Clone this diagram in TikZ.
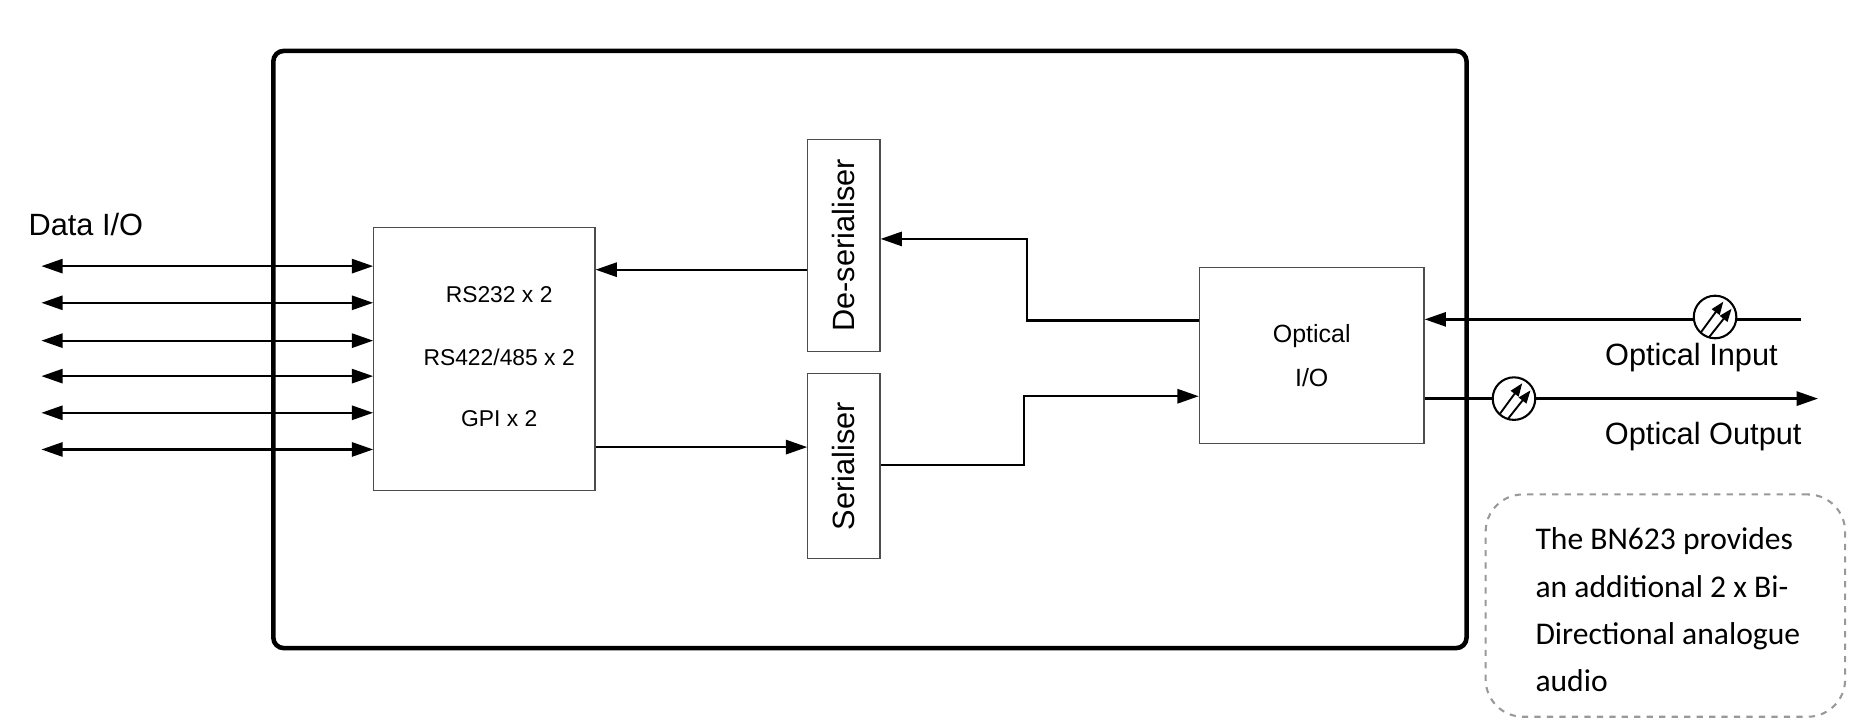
\documentclass[tikz,border=0pt]{standalone}
\usepackage{fontspec}
\setmainfont{Liberation Sans}
\newfontfamily\notefont{Carlito}
\usetikzlibrary{arrows.meta,calc}

\begin{document}
\begin{tikzpicture}[x=0.02cm, y=-0.02cm,
  every node/.style={font=\fontsize{14.8}{18}\selectfont},
  inner/.style={font=\fontsize{11}{14}\selectfont},
  blk/.style={draw=black!70, line width=0.6pt, inner sep=0pt},
  sig/.style={line width=1.1pt, -{Triangle[length=3.6mm,width=2.4mm]}},
  bidir/.style={line width=1.1pt, {Triangle[length=3.6mm,width=2.4mm]}-{Triangle[length=3.6mm,width=2.4mm]}},
  optsym/.style={draw, line width=1pt, circle, minimum size=0.72cm, inner sep=0pt, fill=white}
]
\useasboundingbox (0,0) rectangle (1570,615);
% frame
\node[draw, line width=2.2pt, rounded corners=5pt, minimum width=20.18cm, minimum height=10.1cm] (unit) at (735.5,295.5) {};
% blocks
\node[blk, minimum width=3.74cm, minimum height=4.46cm] (rs) at (409.5,303.5) {};
\node[inner] at (422,249) {RS232 x 2};
\node[inner] at (422,302) {RS422/485 x 2};
\node[inner] at (422,354) {GPI x 2};
\node[blk, minimum width=1.22cm, minimum height=3.58cm] (deser) at (713.5,207.5) {};
\node[rotate=90] at (deser.center) {De-serialiser};
\node[blk, minimum width=1.22cm, minimum height=3.12cm] (ser) at (713.5,394) {};
\node[rotate=90] at (ser.center) {Serialiser};
\node[blk, minimum width=3.8cm, minimum height=2.98cm, align=center, font=\fontsize{12}{15}\selectfont] (opt) at (1109,300.5) {Optical\\[6pt]I/O};
% data lines
\node[anchor=west] (dlabel) at (18,190) {Data I/O};
\foreach \y [count=\i] in {225,256,288,318,349,380} {
  \coordinate (d\i) at (35,\y);
  \draw[bidir] (d\i) -- (d\i -| rs.west);
}
% internal paths
\draw[sig] (deser.west |- 0,228) -- (rs.east |- 0,228);
\draw[sig] (rs.east |- 0,378) -- (ser.west |- 0,378);
\draw[sig] (opt.west |- 0,271) -- (868,271) -- (868,202) -- (deser.east |- 0,202);
\draw[sig] (ser.east |- 0,393) -- (866,393) -- (866,335) -- (opt.west |- 0,335);
% optical ports
\coordinate (inend) at (1523,270);
\coordinate (outend) at (1537,337);
\draw[sig] (inend) -- (opt.east |- inend);
\draw[sig] (opt.east |- outend) -- (outend);
\foreach \n/\x/\y in {symin/1450/268, symout/1280/337} {
  \node[optsym] (\n) at (\x,\y) {};
  \draw[line width=0.9pt, -{Triangle[length=2.2mm,width=1.6mm]}] ($(\n)+(-12,13)$) -- ($(\n)+(7,-13)$);
  \draw[line width=0.9pt, -{Triangle[length=2.2mm,width=1.6mm]}] ($(\n)+(-5,17)$) -- ($(\n)+(14,-7)$);
}
\node (inlabel) at (1430,302) {Optical Input};
\node (outlabel) at (1440,369) {Optical Output};
% note
\node[draw=black!40, dashed, line width=1pt, rounded corners=18pt, minimum width=6.08cm, minimum height=3.76cm] (note) at (1408,512) {};
\node[anchor=north west, align=left, font=\notefont\fontsize{15.2}{22.8}\selectfont] at (1292,440) {The BN623 provides\\an additional 2 x Bi-\\Directional analogue\\audio};
\end{tikzpicture}
\end{document}
